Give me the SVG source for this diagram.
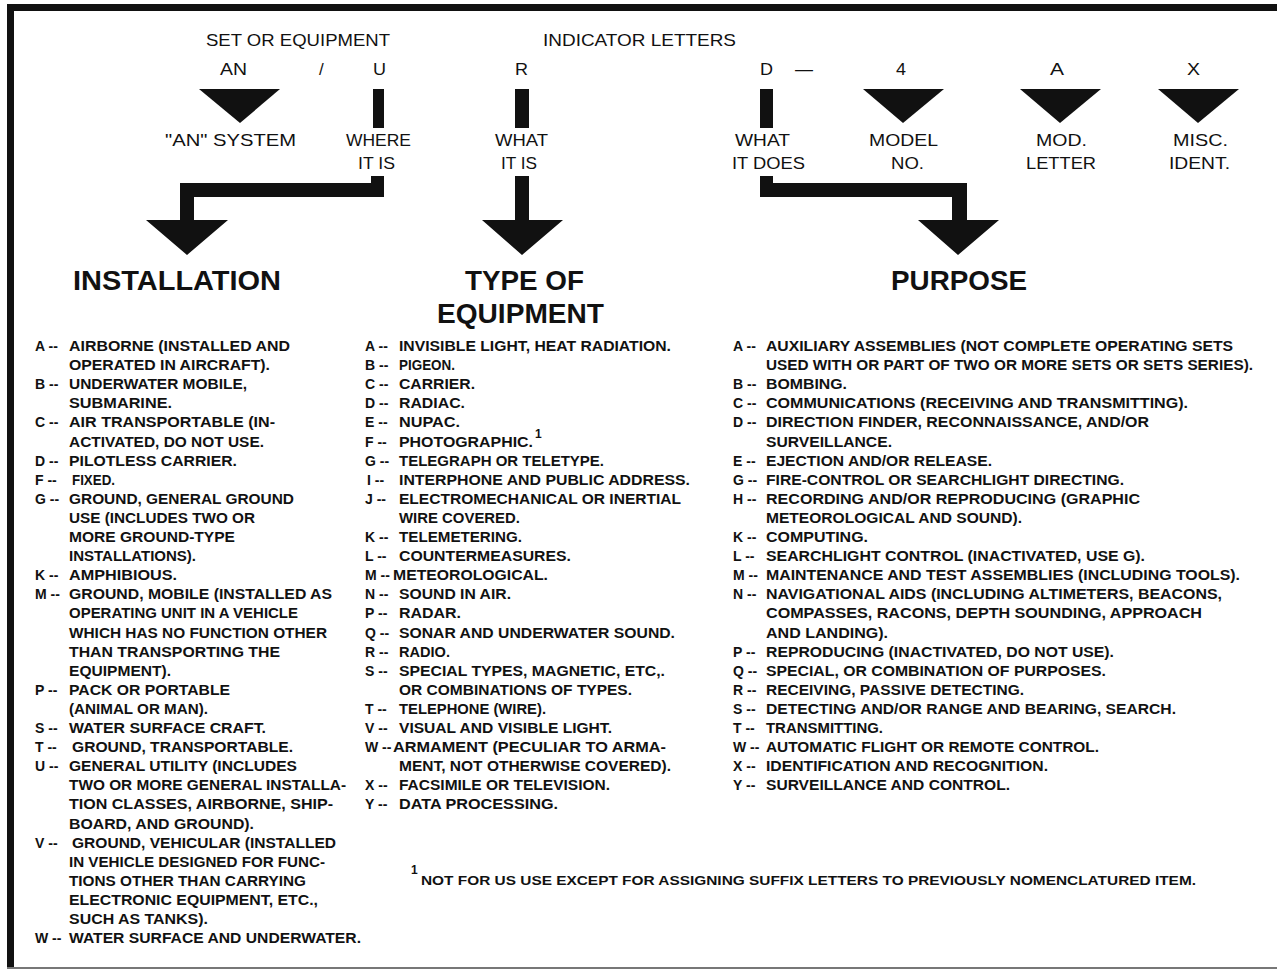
<svg xmlns="http://www.w3.org/2000/svg" width="1277" height="969" viewBox="0 0 1277 969">
<style>
text{fill:#111;font-family:"Liberation Sans",Arial,sans-serif}
.lbl{font-size:17px}
.hd{font-size:28px;font-weight:bold}
.it{font-size:14px;font-weight:bold}
.sup{font-size:12px;font-weight:bold}
.fn{font-size:13px;font-weight:bold}
.blk{fill:#111}
</style>
<rect width="1277" height="969" fill="#fff"/>
<g id="frame">
<rect class="blk" x="7" y="4" width="1270" height="7"/>
<rect class="blk" x="7" y="4" width="7" height="963"/>
<rect x="7" y="967" width="1270" height="2" fill="#777"/>
</g>
<g id="header-labels">
<text class="lbl" x="206" y="46" textLength="184" lengthAdjust="spacingAndGlyphs">SET OR EQUIPMENT</text>
<text class="lbl" x="543" y="46" textLength="193" lengthAdjust="spacingAndGlyphs">INDICATOR LETTERS</text>
<text class="lbl" x="220" y="75" textLength="27" lengthAdjust="spacingAndGlyphs">AN</text>
<text class="lbl" x="319" y="75">/</text>
<text class="lbl" x="373" y="75" textLength="13" lengthAdjust="spacingAndGlyphs">U</text>
<text class="lbl" x="515" y="75" textLength="13" lengthAdjust="spacingAndGlyphs">R</text>
<text class="lbl" x="760" y="75" textLength="13" lengthAdjust="spacingAndGlyphs">D</text>
<text class="lbl" x="795" y="75" textLength="18" lengthAdjust="spacingAndGlyphs">—</text>
<text class="lbl" x="896" y="75" textLength="10" lengthAdjust="spacingAndGlyphs">4</text>
<text class="lbl" x="1050" y="75" textLength="14" lengthAdjust="spacingAndGlyphs">A</text>
<text class="lbl" x="1187" y="75" textLength="13" lengthAdjust="spacingAndGlyphs">X</text>
</g>
<g id="connectors">
<polygon class="blk" points="199,89 280,89 240,123"/>
<rect class="blk" x="373" y="89" width="11" height="39"/>
<polygon class="blk" points="371,176 384,176 384,197 194,197 194,220 228,220 187,255 146,220 180,220 180,183 371,183"/>
<rect class="blk" x="515" y="89" width="14" height="39"/>
<polygon class="blk" points="515,176 529,176 529,220 563,220 522,255 482,220 515,220"/>
<rect class="blk" x="760" y="89" width="13" height="39"/>
<polygon class="blk" points="760,176 773,176 773,183 967,183 967,220 999,220 958,255 918,220 952,220 952,197 760,197"/>
<polygon class="blk" points="863,89 944,89 903,123"/>
<polygon class="blk" points="1020,89 1101,89 1060,123"/>
<polygon class="blk" points="1158,89 1239,89 1198,123"/>
</g>
<g id="node-an-system"><text class="lbl" x="165" y="146" textLength="131" lengthAdjust="spacingAndGlyphs">"AN" SYSTEM</text></g>
<g id="node-where-it-is">
<text class="lbl" x="346" y="146" textLength="65" lengthAdjust="spacingAndGlyphs">WHERE</text>
<text class="lbl" x="358" y="169" textLength="37" lengthAdjust="spacingAndGlyphs">IT IS</text>
</g>
<g id="node-what-it-is">
<text class="lbl" x="495" y="146" textLength="53" lengthAdjust="spacingAndGlyphs">WHAT</text>
<text class="lbl" x="501" y="169" textLength="36" lengthAdjust="spacingAndGlyphs">IT IS</text>
</g>
<g id="node-what-it-does">
<text class="lbl" x="735" y="146" textLength="55" lengthAdjust="spacingAndGlyphs">WHAT</text>
<text class="lbl" x="732" y="169" textLength="73" lengthAdjust="spacingAndGlyphs">IT DOES</text>
</g>
<g id="node-model-no">
<text class="lbl" x="869" y="146" textLength="69" lengthAdjust="spacingAndGlyphs">MODEL</text>
<text class="lbl" x="891" y="169" textLength="33" lengthAdjust="spacingAndGlyphs">NO.</text>
</g>
<g id="node-mod-letter">
<text class="lbl" x="1036" y="146" textLength="51" lengthAdjust="spacingAndGlyphs">MOD.</text>
<text class="lbl" x="1026" y="169" textLength="70" lengthAdjust="spacingAndGlyphs">LETTER</text>
</g>
<g id="node-misc-ident">
<text class="lbl" x="1173" y="146" textLength="55" lengthAdjust="spacingAndGlyphs">MISC.</text>
<text class="lbl" x="1169" y="169" textLength="61" lengthAdjust="spacingAndGlyphs">IDENT.</text>
</g>
<g id="installation">
<text class="hd" x="73" y="290" textLength="208" lengthAdjust="spacingAndGlyphs">INSTALLATION</text>
<text class="it" x="35" y="351">A --</text><text class="it" x="69" y="351" textLength="221" lengthAdjust="spacingAndGlyphs">AIRBORNE (INSTALLED AND</text>
<text class="it" x="69" y="370" textLength="201" lengthAdjust="spacingAndGlyphs">OPERATED IN AIRCRAFT).</text>
<text class="it" x="35" y="389">B --</text><text class="it" x="69" y="389" textLength="178" lengthAdjust="spacingAndGlyphs">UNDERWATER MOBILE,</text>
<text class="it" x="69" y="408" textLength="103" lengthAdjust="spacingAndGlyphs">SUBMARINE.</text>
<text class="it" x="35" y="427">C --</text><text class="it" x="69" y="427" textLength="206" lengthAdjust="spacingAndGlyphs">AIR TRANSPORTABLE (IN-</text>
<text class="it" x="69" y="447" textLength="195" lengthAdjust="spacingAndGlyphs">ACTIVATED, DO NOT USE.</text>
<text class="it" x="35" y="466">D --</text><text class="it" x="69" y="466" textLength="168" lengthAdjust="spacingAndGlyphs">PILOTLESS CARRIER.</text>
<text class="it" x="35" y="485">F --</text><text class="it" x="72" y="485" textLength="43" lengthAdjust="spacingAndGlyphs">FIXED.</text>
<text class="it" x="35" y="504">G --</text><text class="it" x="69" y="504" textLength="225" lengthAdjust="spacingAndGlyphs">GROUND, GENERAL GROUND</text>
<text class="it" x="69" y="523" textLength="186" lengthAdjust="spacingAndGlyphs">USE (INCLUDES TWO OR</text>
<text class="it" x="69" y="542" textLength="166" lengthAdjust="spacingAndGlyphs">MORE GROUND-TYPE</text>
<text class="it" x="69" y="561" textLength="127" lengthAdjust="spacingAndGlyphs">INSTALLATIONS).</text>
<text class="it" x="35" y="580">K --</text><text class="it" x="69" y="580" textLength="108" lengthAdjust="spacingAndGlyphs">AMPHIBIOUS.</text>
<text class="it" x="35" y="599">M --</text><text class="it" x="69" y="599" textLength="263" lengthAdjust="spacingAndGlyphs">GROUND, MOBILE (INSTALLED AS</text>
<text class="it" x="69" y="618" textLength="229" lengthAdjust="spacingAndGlyphs">OPERATING UNIT IN A VEHICLE</text>
<text class="it" x="69" y="638" textLength="258" lengthAdjust="spacingAndGlyphs">WHICH HAS NO FUNCTION OTHER</text>
<text class="it" x="69" y="657" textLength="211" lengthAdjust="spacingAndGlyphs">THAN TRANSPORTING THE</text>
<text class="it" x="69" y="676" textLength="102" lengthAdjust="spacingAndGlyphs">EQUIPMENT).</text>
<text class="it" x="35" y="695">P --</text><text class="it" x="69" y="695" textLength="161" lengthAdjust="spacingAndGlyphs">PACK OR PORTABLE</text>
<text class="it" x="69" y="714" textLength="139" lengthAdjust="spacingAndGlyphs">(ANIMAL OR MAN).</text>
<text class="it" x="35" y="733">S --</text><text class="it" x="69" y="733" textLength="197" lengthAdjust="spacingAndGlyphs">WATER SURFACE CRAFT.</text>
<text class="it" x="35" y="752">T --</text><text class="it" x="72" y="752" textLength="221" lengthAdjust="spacingAndGlyphs">GROUND, TRANSPORTABLE.</text>
<text class="it" x="35" y="771">U --</text><text class="it" x="69" y="771" textLength="228" lengthAdjust="spacingAndGlyphs">GENERAL UTILITY (INCLUDES</text>
<text class="it" x="69" y="790" textLength="277" lengthAdjust="spacingAndGlyphs">TWO OR MORE GENERAL INSTALLA-</text>
<text class="it" x="69" y="809" textLength="264" lengthAdjust="spacingAndGlyphs">TION CLASSES, AIRBORNE, SHIP-</text>
<text class="it" x="69" y="829" textLength="185" lengthAdjust="spacingAndGlyphs">BOARD, AND GROUND).</text>
<text class="it" x="35" y="848">V --</text><text class="it" x="72" y="848" textLength="264" lengthAdjust="spacingAndGlyphs">GROUND, VEHICULAR (INSTALLED</text>
<text class="it" x="69" y="867" textLength="256" lengthAdjust="spacingAndGlyphs">IN VEHICLE DESIGNED FOR FUNC-</text>
<text class="it" x="69" y="886" textLength="237" lengthAdjust="spacingAndGlyphs">TIONS OTHER THAN CARRYING</text>
<text class="it" x="69" y="905" textLength="249" lengthAdjust="spacingAndGlyphs">ELECTRONIC EQUIPMENT, ETC.,</text>
<text class="it" x="69" y="924" textLength="139" lengthAdjust="spacingAndGlyphs">SUCH AS TANKS).</text>
<text class="it" x="35" y="943">W --</text><text class="it" x="69" y="943" textLength="292" lengthAdjust="spacingAndGlyphs">WATER SURFACE AND UNDERWATER.</text>
</g>
<g id="type-of-equipment">
<text class="hd" x="465" y="290" textLength="119" lengthAdjust="spacingAndGlyphs">TYPE OF</text>
<text class="hd" x="437" y="323" textLength="167" lengthAdjust="spacingAndGlyphs">EQUIPMENT</text>
<text class="it" x="365" y="351">A --</text><text class="it" x="399" y="351" textLength="272" lengthAdjust="spacingAndGlyphs">INVISIBLE LIGHT, HEAT RADIATION.</text>
<text class="it" x="365" y="370">B --</text><text class="it" x="399" y="370" textLength="56" lengthAdjust="spacingAndGlyphs">PIGEON.</text>
<text class="it" x="365" y="389">C --</text><text class="it" x="399" y="389" textLength="76" lengthAdjust="spacingAndGlyphs">CARRIER.</text>
<text class="it" x="365" y="408">D --</text><text class="it" x="399" y="408" textLength="66" lengthAdjust="spacingAndGlyphs">RADIAC.</text>
<text class="it" x="365" y="427">E --</text><text class="it" x="399" y="427" textLength="61" lengthAdjust="spacingAndGlyphs">NUPAC.</text>
<text class="it" x="365" y="447">F --</text><text class="it" x="399" y="447" textLength="134" lengthAdjust="spacingAndGlyphs">PHOTOGRAPHIC.</text><text class="sup" x="535" y="438">1</text>
<text class="it" x="365" y="466">G --</text><text class="it" x="399" y="466" textLength="205" lengthAdjust="spacingAndGlyphs">TELEGRAPH OR TELETYPE.</text>
<text class="it" x="367" y="485">I --</text><text class="it" x="399" y="485" textLength="291" lengthAdjust="spacingAndGlyphs">INTERPHONE AND PUBLIC ADDRESS.</text>
<text class="it" x="365" y="504">J --</text><text class="it" x="399" y="504" textLength="282" lengthAdjust="spacingAndGlyphs">ELECTROMECHANICAL OR INERTIAL</text>
<text class="it" x="399" y="523" textLength="121" lengthAdjust="spacingAndGlyphs">WIRE COVERED.</text>
<text class="it" x="365" y="542">K --</text><text class="it" x="399" y="542" textLength="123" lengthAdjust="spacingAndGlyphs">TELEMETERING.</text>
<text class="it" x="365" y="561">L --</text><text class="it" x="399" y="561" textLength="172" lengthAdjust="spacingAndGlyphs">COUNTERMEASURES.</text>
<text class="it" x="365" y="580">M --</text><text class="it" x="393" y="580" textLength="155" lengthAdjust="spacingAndGlyphs">METEOROLOGICAL.</text>
<text class="it" x="365" y="599">N --</text><text class="it" x="399" y="599" textLength="112" lengthAdjust="spacingAndGlyphs">SOUND IN AIR.</text>
<text class="it" x="365" y="618">P --</text><text class="it" x="399" y="618" textLength="62" lengthAdjust="spacingAndGlyphs">RADAR.</text>
<text class="it" x="365" y="638">Q --</text><text class="it" x="399" y="638" textLength="276" lengthAdjust="spacingAndGlyphs">SONAR AND UNDERWATER SOUND.</text>
<text class="it" x="365" y="657">R --</text><text class="it" x="399" y="657" textLength="51" lengthAdjust="spacingAndGlyphs">RADIO.</text>
<text class="it" x="365" y="676">S --</text><text class="it" x="399" y="676" textLength="266" lengthAdjust="spacingAndGlyphs">SPECIAL TYPES, MAGNETIC, ETC,.</text>
<text class="it" x="399" y="695" textLength="233" lengthAdjust="spacingAndGlyphs">OR COMBINATIONS OF TYPES.</text>
<text class="it" x="365" y="714">T --</text><text class="it" x="399" y="714" textLength="147" lengthAdjust="spacingAndGlyphs">TELEPHONE (WIRE).</text>
<text class="it" x="365" y="733">V --</text><text class="it" x="399" y="733" textLength="213" lengthAdjust="spacingAndGlyphs">VISUAL AND VISIBLE LIGHT.</text>
<text class="it" x="365" y="752">W --</text><text class="it" x="393" y="752" textLength="273" lengthAdjust="spacingAndGlyphs">ARMAMENT (PECULIAR TO ARMA-</text>
<text class="it" x="399" y="771" textLength="272" lengthAdjust="spacingAndGlyphs">MENT, NOT OTHERWISE COVERED).</text>
<text class="it" x="365" y="790">X --</text><text class="it" x="399" y="790" textLength="211" lengthAdjust="spacingAndGlyphs">FACSIMILE OR TELEVISION.</text>
<text class="it" x="365" y="809">Y --</text><text class="it" x="399" y="809" textLength="159" lengthAdjust="spacingAndGlyphs">DATA PROCESSING.</text>
</g>
<g id="purpose">
<text class="hd" x="891" y="290" textLength="136" lengthAdjust="spacingAndGlyphs">PURPOSE</text>
<text class="it" x="733" y="351">A --</text><text class="it" x="766" y="351" textLength="467" lengthAdjust="spacingAndGlyphs">AUXILIARY ASSEMBLIES (NOT COMPLETE OPERATING SETS</text>
<text class="it" x="766" y="370" textLength="487" lengthAdjust="spacingAndGlyphs">USED WITH OR PART OF TWO OR MORE SETS OR SETS SERIES).</text>
<text class="it" x="733" y="389">B --</text><text class="it" x="766" y="389" textLength="81" lengthAdjust="spacingAndGlyphs">BOMBING.</text>
<text class="it" x="733" y="408">C --</text><text class="it" x="766" y="408" textLength="422" lengthAdjust="spacingAndGlyphs">COMMUNICATIONS (RECEIVING AND TRANSMITTING).</text>
<text class="it" x="733" y="427">D --</text><text class="it" x="766" y="427" textLength="383" lengthAdjust="spacingAndGlyphs">DIRECTION FINDER, RECONNAISSANCE, AND/OR</text>
<text class="it" x="766" y="447" textLength="126" lengthAdjust="spacingAndGlyphs">SURVEILLANCE.</text>
<text class="it" x="733" y="466">E --</text><text class="it" x="766" y="466" textLength="226" lengthAdjust="spacingAndGlyphs">EJECTION AND/OR RELEASE.</text>
<text class="it" x="733" y="485">G --</text><text class="it" x="766" y="485" textLength="358" lengthAdjust="spacingAndGlyphs">FIRE-CONTROL OR SEARCHLIGHT DIRECTING.</text>
<text class="it" x="733" y="504">H --</text><text class="it" x="766" y="504" textLength="374" lengthAdjust="spacingAndGlyphs">RECORDING AND/OR REPRODUCING (GRAPHIC</text>
<text class="it" x="766" y="523" textLength="256" lengthAdjust="spacingAndGlyphs">METEOROLOGICAL AND SOUND).</text>
<text class="it" x="733" y="542">K --</text><text class="it" x="766" y="542" textLength="102" lengthAdjust="spacingAndGlyphs">COMPUTING.</text>
<text class="it" x="733" y="561">L --</text><text class="it" x="766" y="561" textLength="379" lengthAdjust="spacingAndGlyphs">SEARCHLIGHT CONTROL (INACTIVATED, USE G).</text>
<text class="it" x="733" y="580">M --</text><text class="it" x="766" y="580" textLength="474" lengthAdjust="spacingAndGlyphs">MAINTENANCE AND TEST ASSEMBLIES (INCLUDING TOOLS).</text>
<text class="it" x="733" y="599">N --</text><text class="it" x="766" y="599" textLength="456" lengthAdjust="spacingAndGlyphs">NAVIGATIONAL AIDS (INCLUDING ALTIMETERS, BEACONS,</text>
<text class="it" x="766" y="618" textLength="436" lengthAdjust="spacingAndGlyphs">COMPASSES, RACONS, DEPTH SOUNDING, APPROACH</text>
<text class="it" x="766" y="638" textLength="122" lengthAdjust="spacingAndGlyphs">AND LANDING).</text>
<text class="it" x="733" y="657">P --</text><text class="it" x="766" y="657" textLength="348" lengthAdjust="spacingAndGlyphs">REPRODUCING (INACTIVATED, DO NOT USE).</text>
<text class="it" x="733" y="676">Q --</text><text class="it" x="766" y="676" textLength="340" lengthAdjust="spacingAndGlyphs">SPECIAL, OR COMBINATION OF PURPOSES.</text>
<text class="it" x="733" y="695">R --</text><text class="it" x="766" y="695" textLength="258" lengthAdjust="spacingAndGlyphs">RECEIVING, PASSIVE DETECTING.</text>
<text class="it" x="733" y="714">S --</text><text class="it" x="766" y="714" textLength="410" lengthAdjust="spacingAndGlyphs">DETECTING AND/OR RANGE AND BEARING, SEARCH.</text>
<text class="it" x="733" y="733">T --</text><text class="it" x="766" y="733" textLength="117" lengthAdjust="spacingAndGlyphs">TRANSMITTING.</text>
<text class="it" x="733" y="752">W --</text><text class="it" x="766" y="752" textLength="333" lengthAdjust="spacingAndGlyphs">AUTOMATIC FLIGHT OR REMOTE CONTROL.</text>
<text class="it" x="733" y="771">X --</text><text class="it" x="766" y="771" textLength="282" lengthAdjust="spacingAndGlyphs">IDENTIFICATION AND RECOGNITION.</text>
<text class="it" x="733" y="790">Y --</text><text class="it" x="766" y="790" textLength="244" lengthAdjust="spacingAndGlyphs">SURVEILLANCE AND CONTROL.</text>
</g>
<g id="footnote">
<text class="sup" x="411" y="874">1</text>
<text class="fn" x="421" y="885" textLength="775" lengthAdjust="spacingAndGlyphs">NOT FOR US USE EXCEPT FOR ASSIGNING SUFFIX LETTERS TO PREVIOUSLY NOMENCLATURED ITEM.</text>
</g>
</svg>
